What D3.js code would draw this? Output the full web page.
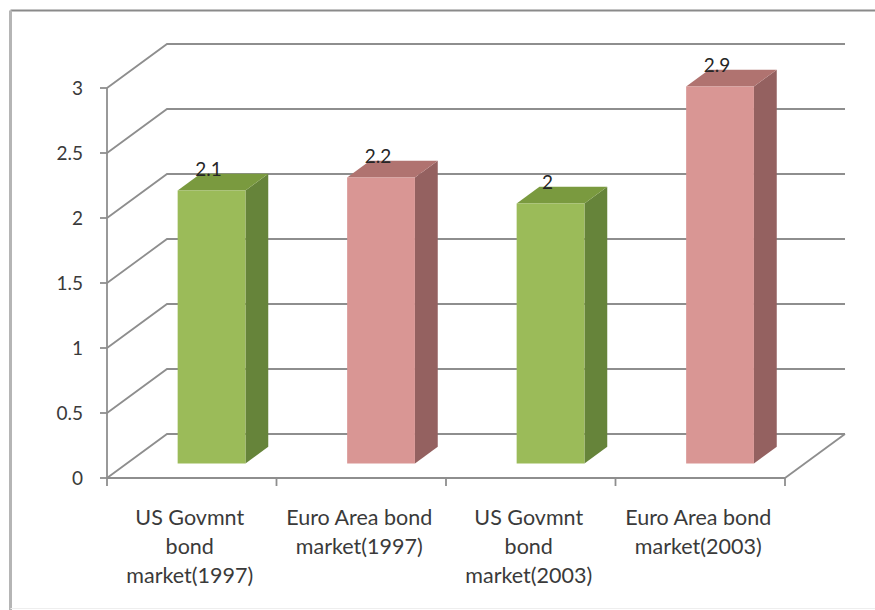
<!DOCTYPE html>
<html>
<head>
<meta charset="utf-8">
<script src="https://cdn.jsdelivr.net/npm/d3@7"></script>
<style>
  html, body { margin: 0; padding: 0; background: #fff; }
  svg { display: block; }
  text { font-family: Lato, "Open Sans", sans-serif; }
</style>
</head>
<body>
<svg id="chart" width="875" height="610"></svg>
<script>
// ---- data ----
const categories = [
  "US Govmnt\nbond\nmarket(1997)",
  "Euro Area bond\nmarket(1997)",
  "US Govmnt\nbond\nmarket(2003)",
  "Euro Area bond\nmarket(2003)"
];
const values = [2.1, 2.2, 2.0, 2.9];
const seriesKind = ["us", "euro", "us", "euro"];
const yTicks = [0, 0.5, 1, 1.5, 2, 2.5, 3];
const labelText = ["2.1", "2.2", "2", "2.9"];

// ---- styles ----
const palette = {
  us:   { front: "#9BBB59", top: "#7A9A3F", side: "#66843A" },
  euro: { front: "#D99694", top: "#B07370", side: "#946160" }
};
const gridColor = "#8e8e8e";
const textColor = "#3a3a3a";

const svg = d3.select("#chart");

// border
svg.append("line").attr("x1", 10.5).attr("y1", 10.5).attr("x2", 875).attr("y2", 10.5)
  .attr("stroke", "#8a8a8a").attr("stroke-width", 2);
svg.append("line").attr("x1", 10.5).attr("y1", 10.5).attr("x2", 10.5).attr("y2", 610)
  .attr("stroke", "#b5b5b5").attr("stroke-width", 3);
svg.append("line").attr("x1", 10.5).attr("y1", 608.5).attr("x2", 875).attr("y2", 608.5)
  .attr("stroke", "#eeeeee").attr("stroke-width", 1);

// scales (front plane)
const x = d3.scaleBand().domain(d3.range(categories.length)).range([107, 785]).padding(0);
const y = d3.scaleLinear().domain([0, 3]).range([478, 88]);
const DX = 60, DY = -44; // depth offsets of back wall
const P = (px, py, t) => [px + DX * t, py + DY * t];

const g = svg.append("g");

// left wall diagonals + back wall gridlines
yTicks.forEach(v => {
  const a = P(107, y(v), 0), b = P(107, y(v), 1), c = P(785, y(v), 1);
  g.append("path")
    .attr("d", `M${a[0]},${a[1]}L${b[0]},${b[1]}L${c[0]},${c[1]}`)
    .attr("fill", "none").attr("stroke", gridColor).attr("stroke-width", 1.8);
});
// floor right edge
{
  const a = P(785, y(0), 0), b = P(785, y(0), 1);
  g.append("line").attr("x1", a[0]).attr("y1", a[1]).attr("x2", b[0]).attr("y2", b[1])
    .attr("stroke", gridColor).attr("stroke-width", 1.8);
}

// front axes
g.append("line").attr("x1", 107).attr("y1", y(3)).attr("x2", 107).attr("y2", y(0))
  .attr("stroke", gridColor).attr("stroke-width", 1.8);
g.append("line").attr("x1", 107).attr("y1", y(0)).attr("x2", 785).attr("y2", y(0))
  .attr("stroke", gridColor).attr("stroke-width", 1.8);

// y ticks and labels
yTicks.forEach(v => {
  g.append("line").attr("x1", 100).attr("x2", 107).attr("y1", y(v)).attr("y2", y(v))
    .attr("stroke", gridColor).attr("stroke-width", 1.8);
  g.append("text").attr("x", 83).attr("y", y(v)).attr("dy", "0.35em")
    .attr("text-anchor", "end").attr("font-size", 19).attr("fill", textColor)
    .text(String(v));
});

// category ticks
const catTicks = categories.map((c, i) => x(i)).concat([x(categories.length - 1) + x.bandwidth()]);
catTicks.forEach(cx => {
  g.append("line").attr("x1", cx).attr("x2", cx).attr("y1", y(0)).attr("y2", y(0) + 8)
    .attr("stroke", gridColor).attr("stroke-width", 1.8);
});

// category labels
categories.forEach((c, i) => {
  const t = g.append("text").attr("text-anchor", "middle").attr("font-size", 21.5)
    .attr("fill", textColor);
  c.split("\n").forEach((line, k) => {
    t.append("tspan").attr("x", x(i) + x.bandwidth() / 2 - 2).attr("y", 525 + k * 29).text(line);
  });
});

// bars
const t0 = 0.33, t1 = 0.71;
const barW = x.bandwidth() * 0.4;
values.forEach((v, i) => {
  const col = palette[seriesKind[i]];
  const left = x(i) + (x.bandwidth() - barW) / 2;
  const right = left + barW;
  const fl0 = P(left, y(0), t0), fr0 = P(right, y(0), t0);
  const flv = P(left, y(v), t0), frv = P(right, y(v), t0);
  const br0 = P(right, y(0), t1), brv = P(right, y(v), t1), blv = P(left, y(v), t1);
  // side
  g.append("path").attr("d", `M${fr0}L${br0}L${brv}L${frv}Z`).attr("fill", col.side);
  // top
  g.append("path").attr("d", `M${flv}L${frv}L${brv}L${blv}Z`).attr("fill", col.top);
  // front
  g.append("path").attr("d", `M${fl0}L${fr0}L${frv}L${flv}Z`).attr("fill", col.front);
  // data label
  g.append("text").attr("x", (flv[0] + frv[0]) / 2 - 3).attr("y", flv[1] - 14)
    .attr("text-anchor", "middle").attr("font-size", 19).attr("fill", "#262626")
    .text(labelText[i]);
});
</script>
</body>
</html>
